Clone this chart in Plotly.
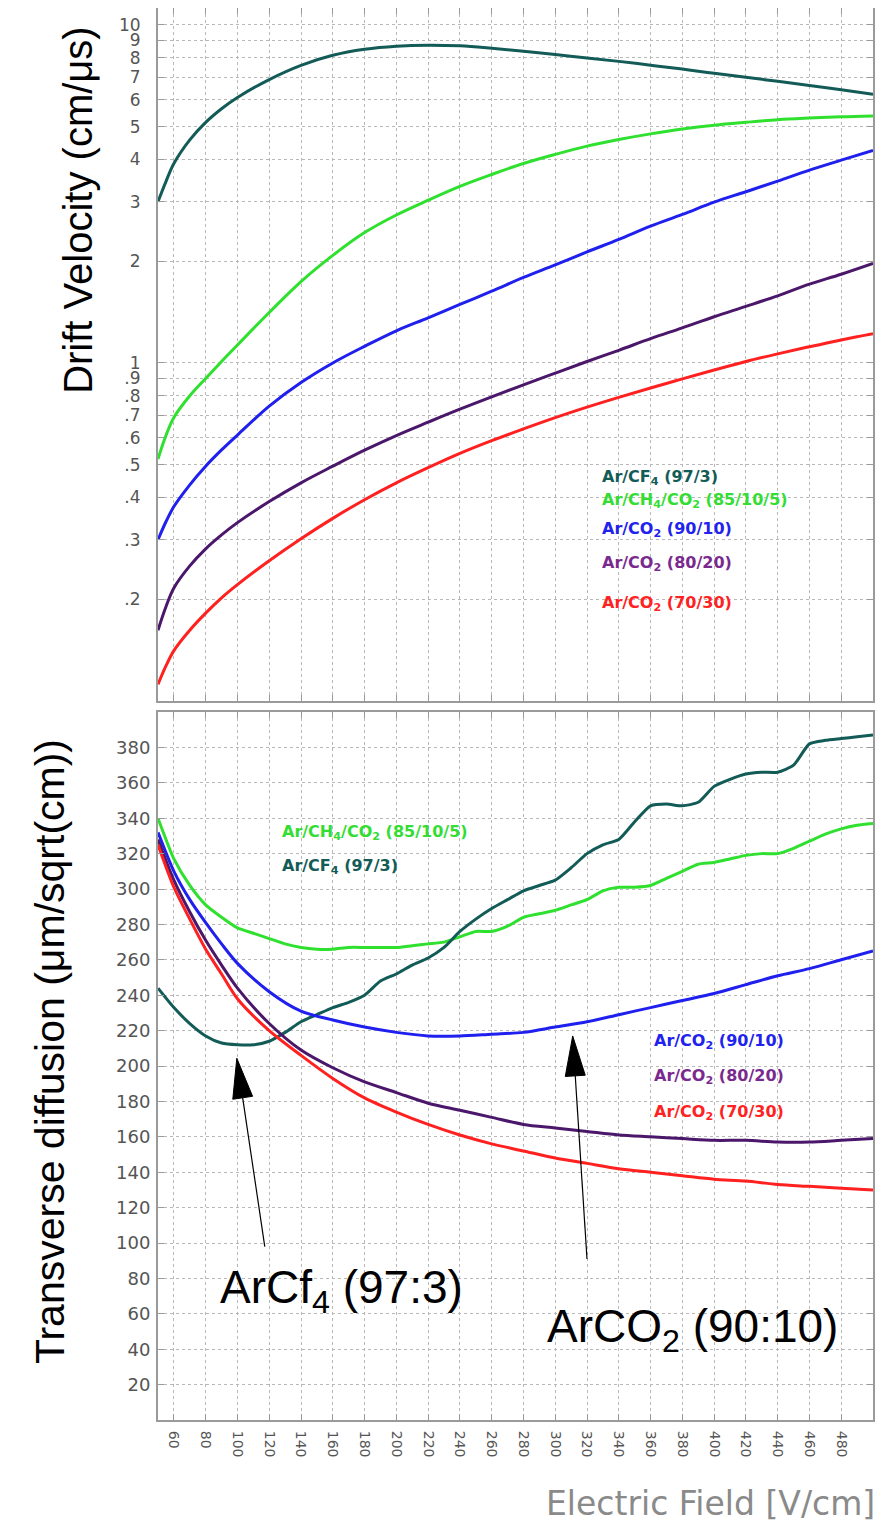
import numpy as np
import plotly.graph_objects as go

# ---------------- data ----------------
# Drift velocity (cm/us) vs electric field (V/cm)
E_vel = [50, 55, 60, 70, 80, 90, 100, 120, 140, 160, 180, 200, 220, 240, 260, 280,
         300, 320, 340, 360, 380, 400, 420, 440, 460, 480, 500]
vel_cf4 = [3.0, 3.44, 3.89, 4.57, 5.15, 5.65, 6.1, 6.89, 7.59, 8.13, 8.47, 8.65, 8.71, 8.67, 8.53, 8.36,
           8.17, 7.98, 7.80, 7.60, 7.40, 7.19, 7.0, 6.81, 6.62, 6.43, 6.24]
vel_ch4 = [0.52, 0.61, 0.69, 0.80, 0.90, 1.01, 1.13, 1.41, 1.74, 2.08, 2.43, 2.74, 3.03, 3.33, 3.61, 3.89,
           4.14, 4.38, 4.58, 4.76, 4.92, 5.05, 5.15, 5.24, 5.30, 5.35, 5.38]
vel_co2_90 = [0.30, 0.339, 0.376, 0.436, 0.495, 0.553, 0.612, 0.745, 0.875, 1.0, 1.12, 1.245, 1.36, 1.49, 1.63, 1.79,
              1.95, 2.13, 2.32, 2.54, 2.75, 2.99, 3.21, 3.45, 3.72, 3.98, 4.25]
vel_co2_80 = [0.162, 0.19, 0.216, 0.251, 0.282, 0.31, 0.337, 0.389, 0.442, 0.495, 0.552, 0.61, 0.668, 0.73, 0.794, 0.861,
              0.933, 1.01, 1.09, 1.18, 1.27, 1.37, 1.47, 1.58, 1.71, 1.83, 1.97]
vel_co2_70 = [0.112, 0.127, 0.141, 0.162, 0.182, 0.202, 0.221, 0.26, 0.302, 0.347, 0.394, 0.442, 0.49, 0.54, 0.589, 0.638,
              0.689, 0.74, 0.791, 0.843, 0.897, 0.953, 1.01, 1.064, 1.117, 1.17, 1.22]

# Transverse diffusion (um/sqrt(cm)) vs electric field (V/cm)
E_diff_fine = [50, 60, 70, 80, 90, 100, 110, 120, 130, 140, 150, 160, 170, 180, 190, 200,
               210, 220, 230, 240, 250, 260, 270, 280, 290, 300, 310, 320, 330, 340, 350,
               360, 370, 380, 390, 400, 410, 420, 430, 440, 450, 460, 470, 480, 490, 500]
dif_cf4 = [244, 233, 224, 217, 213, 212, 212, 214, 219, 225, 229, 233, 236, 240, 248, 252,
           257, 261, 267, 276, 283, 289, 294, 299, 302, 305, 312, 320, 325, 328, 338,
           347, 348, 347, 349, 358, 362, 365, 366, 366, 370, 382, 384, 385, 386, 387]
dif_ch4 = [340, 317, 302, 291, 284, 278, 275, 272, 269, 267, 266, 266, 267, 267, 267, 267,
           268, 269, 270, 273, 276, 276, 279, 284, 286, 288, 291, 294, 299, 301, 301,
           302, 306, 310, 314, 315, 317, 319, 320, 320, 323, 327, 331, 334, 336, 337]

E_diff = [50, 60, 70, 80, 90, 100, 120, 140, 160, 180, 200, 220, 240, 260, 280,
          300, 320, 340, 360, 380, 400, 420, 440, 460, 480, 500]
dif_co2_90 = [332, 310, 294, 281, 269, 258, 242, 231, 226, 222, 219, 217, 217, 218, 219,
              222, 225, 229, 233, 237, 241, 246, 251, 255, 260, 265]
dif_co2_80 = [328, 305, 287, 271, 257, 244, 224, 209, 199, 191, 185, 179, 175, 171, 167,
              165, 163, 161, 160, 159, 158, 158, 157, 157, 158, 159]
dif_co2_70 = [325, 301, 283, 266, 252, 238, 220, 206, 193, 182, 174, 167, 161, 156, 152,
              148, 145, 142, 140, 138, 136, 135, 133, 132, 131, 130]

x_ticks = list(range(60, 481, 20))
vel_tickvals = [0.2, 0.3, 0.4, 0.5, 0.6, 0.7, 0.8, 0.9, 1, 2, 3, 4, 5, 6, 7, 8, 9, 10]
vel_ticktext = [".2", ".3", ".4", ".5", ".6", ".7", ".8", ".9", "1", "2", "3", "4", "5", "6", "7", "8", "9", "10"]
dif_ticks = list(range(20, 381, 20))

# ---------------- style ----------------
C_CF4 = "#125b57"
C_CH4 = "#2fe02f"
C_90 = "#1f1fee"
C_80 = "#4b176a"
C_70 = "#ff2020"
LW = 3

fig = go.Figure()

top = [(vel_cf4, C_CF4), (vel_ch4, C_CH4), (vel_co2_90, C_90), (vel_co2_80, C_80), (vel_co2_70, C_70)]
for vals, col in top:
    fig.add_trace(go.Scatter(x=E_vel, y=vals, mode="lines", xaxis="x2", yaxis="y2",
                             line=dict(color=col, width=LW, shape="spline", smoothing=1.0),
                             showlegend=False, hoverinfo="skip"))

fig.add_trace(go.Scatter(x=E_diff_fine, y=dif_ch4, mode="lines",
                         line=dict(color=C_CH4, width=LW, shape="spline", smoothing=0.6),
                         showlegend=False))
fig.add_trace(go.Scatter(x=E_diff_fine, y=dif_cf4, mode="lines",
                         line=dict(color=C_CF4, width=LW, shape="spline", smoothing=0.6),
                         showlegend=False))
for vals, col in [(dif_co2_90, C_90), (dif_co2_80, C_80), (dif_co2_70, C_70)]:
    fig.add_trace(go.Scatter(x=E_diff, y=vals, mode="lines",
                             line=dict(color=col, width=LW, shape="spline", smoothing=0.8),
                             showlegend=False))

GRID = dict(showgrid=True, gridcolor="#b8b8b8", griddash="dot", gridwidth=1,
            showline=True, linecolor="#9a9a9a", linewidth=2, mirror="ticks",
            ticks="inside", ticklen=6, tickcolor="#9a9a9a", zeroline=False,
            automargin=False)
TF = dict(family="DejaVu Sans", color="#555555")

X_RANGE = [50, 500]
BOT_DOM = [0, 0.5014]
TOP_DOM = [0.5092, 1]

# the page body adds an 8px offset; the figure is sized so the plot lands at 158..873 x 8..1420
FIG_W, FIG_H = 877, 1522
M = dict(l=150, r=12, t=0, b=110)

fig.update_layout(
    width=FIG_W, height=FIG_H,
    margin=M,
    paper_bgcolor="white", plot_bgcolor="white",
    xaxis=dict(domain=[0, 1], anchor="y", range=X_RANGE, tickvals=x_ticks,
               tickangle=90, tickfont=dict(size=14, **TF), ticklabelstandoff=6, **GRID),
    yaxis=dict(domain=BOT_DOM, anchor="x", range=[0, 400], tickvals=dif_ticks,
               tickfont=dict(size=18, **TF), ticklabelstandoff=2, **GRID),
    xaxis2=dict(domain=[0, 1], anchor="y2", range=X_RANGE, tickvals=x_ticks,
                showticklabels=False, **GRID),
    yaxis2=dict(domain=TOP_DOM, anchor="x2", type="log", range=[-1, 1.05],
                tickvals=vel_tickvals, ticktext=vel_ticktext,
                tickfont=dict(size=17, **TF), ticklabelstandoff=12, **GRID),
)

ann = []
# axis titles
ann.append(dict(text="Drift Velocity (cm/\u03bcs)", xref="paper", yref="paper",
                x=-0.112, y=0.857, xanchor="center", yanchor="middle",
                textangle=-90, showarrow=False,
                font=dict(family="Liberation Sans", size=40, color="black")))
ann.append(dict(text="Transverse diffusion (\u03bcm/sqrt(cm))", xref="paper", yref="paper",
                x=-0.151, y=0.2606, xanchor="center", yanchor="middle",
                textangle=-90, showarrow=False,
                font=dict(family="Liberation Sans", size=41, color="black")))
ann.append(dict(text="Electric Field [V/cm]", xref="paper", yref="paper",
                x=1.0056, y=-0.0588, xanchor="right", yanchor="middle", showarrow=False,
                font=dict(family="DejaVu Sans", size=33, color="#8a8a8a")))

LF = "DejaVu Sans"
# top-panel labels (log axis -> y in log10 units)
top_labels = [("Ar/CF<sub>4</sub> (97/3)", C_CF4, -0.340),
              ("Ar/CH<sub>4</sub>/CO<sub>2</sub> (85/10/5)", "#33dd33", -0.408),
              ("Ar/CO<sub>2</sub> (90/10)", "#2222ee", -0.494),
              ("Ar/CO<sub>2</sub> (80/20)", "#7a2a8e", -0.592),
              ("Ar/CO<sub>2</sub> (70/30)", "#ff2222", -0.713)]
for t, c, yy in top_labels:
    ann.append(dict(text="<b>%s</b>" % t, xref="x2", yref="y2", x=328, y=yy,
                    xanchor="left", yanchor="middle", showarrow=False,
                    font=dict(family=LF, size=16, color=c)))

bot_labels = [("Ar/CH<sub>4</sub>/CO<sub>2</sub> (85/10/5)", "#33dd33", 127, 332),
              ("Ar/CF<sub>4</sub> (97/3)", C_CF4, 127, 313),
              ("Ar/CO<sub>2</sub> (90/10)", "#2222ee", 361, 214),
              ("Ar/CO<sub>2</sub> (80/20)", "#7a2a8e", 361, 194),
              ("Ar/CO<sub>2</sub> (70/30)", "#ff2222", 361, 174)]
for t, c, xx, yy in bot_labels:
    ann.append(dict(text="<b>%s</b>" % t, xref="x", yref="y", x=xx, y=yy,
                    xanchor="left", yanchor="middle", showarrow=False,
                    font=dict(family=LF, size=16, color=c)))

# big callouts
BF = dict(family="Liberation Sans", size=46, color="black")
ann.append(dict(text="ArCf<sub>4</sub> (97:3)", xref="x", yref="y", x=87.6, y=73,
                xanchor="left", yanchor="middle", showarrow=False, font=BF))
ann.append(dict(text="ArCO<sub>2</sub> (90:10)", xref="x", yref="y", x=293.4, y=51,
                xanchor="left", yanchor="middle", showarrow=False, font=BF))

# arrows (tip, tail) in bottom-axis data units
arrows = [((99.6, 204.4), (117.2, 98.0)), ((311.0, 217.0), (320.0, 91.0))]
plot_w = FIG_W - M["l"] - M["r"]
plot_h = FIG_H - M["t"] - M["b"]
px_per_x = plot_w / (X_RANGE[1] - X_RANGE[0])
px_per_y = plot_h * (BOT_DOM[1] - BOT_DOM[0]) / 400.0
HEAD_L, HEAD_W = 40.0, 20.0
shapes = []
for (tx, ty), (sx, sy) in arrows:
    dxp = (tx - sx) * px_per_x
    dyp = (ty - sy) * px_per_y
    L = np.hypot(dxp, dyp)
    ux, uy = dxp / L, dyp / L
    nx, ny = -uy, ux
    bx, by = -ux * HEAD_L, -uy * HEAD_L
    p1 = (tx + (bx + nx * HEAD_W / 2) / px_per_x, ty + (by + ny * HEAD_W / 2) / px_per_y)
    p2 = (tx + (bx - nx * HEAD_W / 2) / px_per_x, ty + (by - ny * HEAD_W / 2) / px_per_y)
    basex, basey = tx + bx / px_per_x, ty + by / px_per_y
    shapes.append(dict(type="line", xref="x", yref="y", x0=sx, y0=sy, x1=basex, y1=basey,
                       line=dict(color="black", width=1.2)))
    shapes.append(dict(type="path", xref="x", yref="y",
                       path="M %f,%f L %f,%f L %f,%f Z" % (tx, ty, p1[0], p1[1], p2[0], p2[1]),
                       fillcolor="black", line=dict(color="black", width=1)))

fig.update_layout(annotations=ann, shapes=shapes)
fig.write_html("out.html")
